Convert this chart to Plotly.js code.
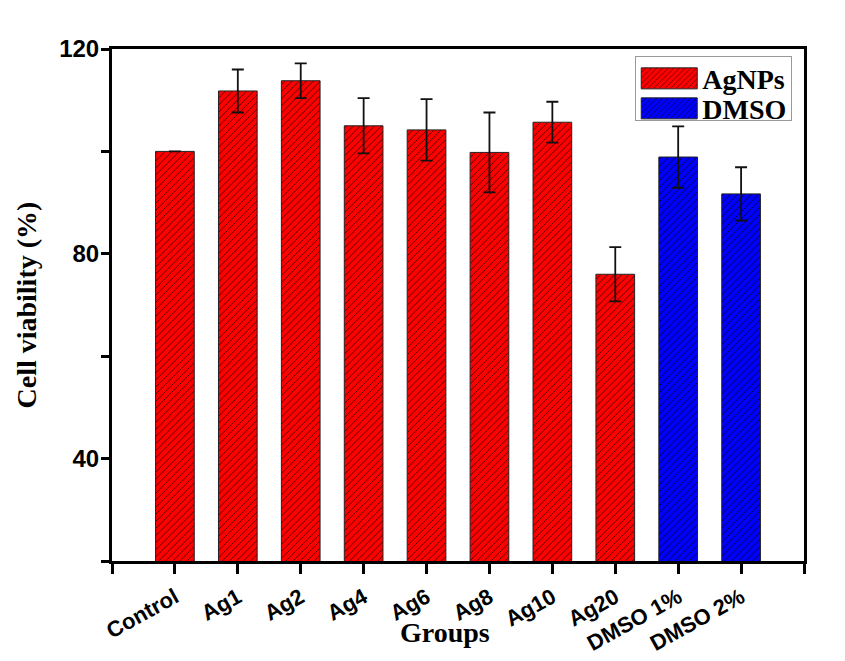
<!DOCTYPE html>
<html>
<head>
<meta charset="utf-8">
<script src="https://cdn.plot.ly/plotly-3.0.1.min.js"></script>
<style>html,body{margin:0;padding:0;background:#fff;}#chart{width:845px;height:661px;}</style>
</head>
<body>
<div id="chart"></div>
<script>
// Data
const agGroups = ["Control", "Ag1", "Ag2", "Ag4", "Ag6", "Ag8", "Ag10", "Ag20"];
const agValues = [100, 111.8, 113.8, 105.0, 104.2, 99.8, 105.7, 76.0];
const agErrors = [null, 4.2, 3.4, 5.4, 6.0, 7.8, 4.0, 5.3];
const dmsoGroups = ["DMSO 1%", "DMSO 2%"];
const dmsoValues = [98.9, 91.7];
const dmsoErrors = [6.0, 5.2];
const allGroups = agGroups.concat(dmsoGroups);
const yTickVals = [20, 40, 60, 80, 100, 120];
const yTickText = ["", "40", "", "80", "", "120"];
const xTitle = "Groups";
const yTitle = "Cell viability (%)";

const agPos = agGroups.map(g => allGroups.indexOf(g));
const dmsoPos = dmsoGroups.map(g => allGroups.indexOf(g));

function barTrace(name, x, y, err, color, fg) {
  return {
    type: "bar", name: name, x: x, y: y, width: 0.615,
    marker: {
      color: color,
      line: {color: "#222", width: 1},
      pattern: {shape: "/", fgcolor: fg, bgcolor: color, size: 5, solidity: 0.16, fillmode: "replace"}
    },
    error_y: {type: "data", array: err, visible: true, color: "#111", thickness: 1.8, width: 6}
  };
}

const traces = [
  barTrace("AgNPs", agPos, agValues, agErrors, "#ff0000", "#300000"),
  barTrace("DMSO", dmsoPos, dmsoValues, dmsoErrors, "#0000ff", "#000022")
];

const xTickVals = [-1].concat(allGroups.map((g, i) => i)).concat([10]);
const xTickText = [""].concat(allGroups).concat([""]);

const serif = "Liberation Serif, Times New Roman, serif";
const sans = "Liberation Sans, Arial, sans-serif";

const layout = {
  width: 845, height: 661,
  margin: {l: 112, r: 41, t: 49, b: 100},
  paper_bgcolor: "#ffffff", plot_bgcolor: "#ffffff",
  showlegend: true,
  xaxis: {
    range: [-1, 10], tickvals: xTickVals, ticktext: xTickText, tickangle: -29,
    showline: true, linecolor: "#000", linewidth: 3, mirror: true,
    ticks: "outside", ticklen: 10, tickwidth: 3, tickcolor: "#000",
    ticklabelstandoff: 2,
    showgrid: false, zeroline: false,
    tickfont: {family: sans, size: 22, color: "#000", weight: "bold"}
  },
  yaxis: {
    range: [20, 120], tickvals: yTickVals, ticktext: yTickText,
    showline: true, linecolor: "#000", linewidth: 3, mirror: true,
    ticks: "outside", ticklen: 8, tickwidth: 3, tickcolor: "#000",
    ticklabelstandoff: -3,
    showgrid: false, zeroline: false,
    tickfont: {family: sans, size: 24, color: "#000", weight: "bold"}
  },
  annotations: [
    {text: "<b>" + yTitle + "</b>", xref: "paper", yref: "paper", x: -0.125, y: 0.5,
     xanchor: "center", yanchor: "middle", textangle: -90, showarrow: false,
     font: {family: serif, size: 28, color: "#000"}},
    {text: "<b>" + xTitle + "</b>", xref: "paper", yref: "paper", x: 0.481, y: -0.1406,
     xanchor: "center", yanchor: "middle", showarrow: false,
     font: {family: serif, size: 28, color: "#000"}}
  ],
  legend: {
    x: 0.983, y: 0.987, xanchor: "right", yanchor: "top",
    bgcolor: "#ffffff", bordercolor: "#999", borderwidth: 1,
    font: {family: serif, size: 28, color: "#000", weight: "bold"},
    itemwidth: 56, tracegroupgap: 0
  }
};

Plotly.newPlot("chart", traces, layout, {displayModeBar: false, staticPlot: true}).then(function () {
  document.querySelectorAll(".legend .legendpoints path").forEach(function (p) {
    p.setAttribute("d", "M28,10.5H-28V-10.5H28Z");
  });
  const items = document.querySelectorAll(".legend .traces");
  if (items.length) {
    const m = /translate\(\s*([-\d.]+)[ ,]+([-\d.]+)/.exec(items[0].getAttribute("transform") || "");
    if (m) {
      const x0 = parseFloat(m[1]), y0 = parseFloat(m[2]);
      items.forEach(function (it, i) {
        it.setAttribute("transform", "translate(" + x0 + "," + (y0 - 3 + 30 * i) + ")");
      });
    }
  }
  const bg = document.querySelector(".legend rect.bg");
  if (bg) bg.setAttribute("height", "64");
});
</script>
</body>
</html>
